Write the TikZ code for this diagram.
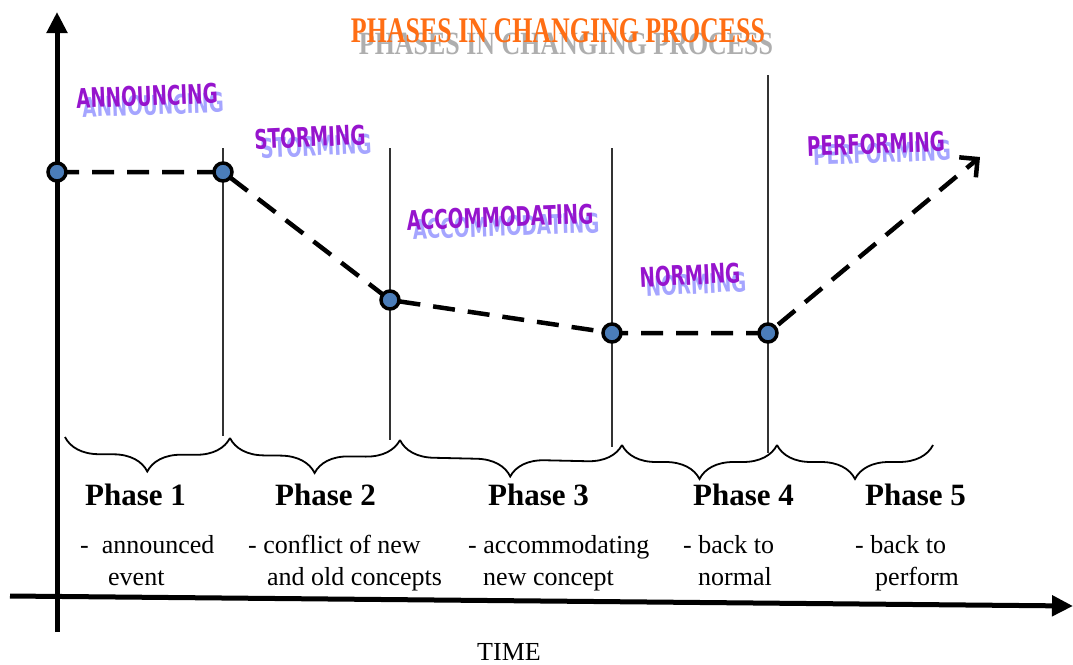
\documentclass[tikz,border=0pt]{standalone}
\usepackage{fontspec}
\setmainfont{Liberation Serif}
\newfontfamily\labfont{DejaVu Sans}
\usetikzlibrary{arrows.meta,decorations.pathreplacing}
\definecolor{labpurple}{RGB}{150,20,205}
\definecolor{labshadow}{RGB}{165,165,255}
\definecolor{titleorange}{RGB}{255,110,20}
\definecolor{dotblue}{RGB}{75,125,185}
\begin{document}
\begin{tikzpicture}[x=1pt,y=-1pt,
  axis/.style={line width=5pt,-{Triangle[length=21pt,width=20pt]}},
  vline/.style={line width=1.6pt, black!80},
  dashline/.style={line width=4.5pt, dash pattern=on 22pt off 13pt, -{Straight Barb[length=13pt,width=26pt]}},
  dot/.style={circle, draw=black, line width=3.5pt, fill=dotblue, minimum size=18pt, inner sep=0pt},
  brc/.style={decorate, decoration={brace, mirror, amplitude=34pt}, line width=1.8pt},
  phase/.style={anchor=base west, inner sep=0pt, font=\bfseries\fontsize{31}{36}\selectfont},
  desc/.style={anchor=base west, inner sep=0pt, font=\fontsize{26}{30}\selectfont},
  lab/.style={inner sep=0pt, text=labpurple, font=\labfont\bfseries\fontsize{27}{27}\selectfont},
  labsh/.style={lab, text=labshadow},
  ttl/.style={inner sep=0pt, text=titleorange, font=\bfseries\fontsize{36}{36}\selectfont},
  ttlsh/.style={ttl, text=black!45, opacity=0.7},
]
\useasboundingbox (0,0) rectangle (1073,664);

% title
\node[ttlsh] (title-s) at (566,44) {\scalebox{0.72}[0.9]{PHASES IN CHANGING PROCESS}};
\node[ttl] (title) at (558,31) {\scalebox{0.72}[1]{PHASES IN CHANGING PROCESS}};

% axes
\coordinate (yb) at (57,632);
\coordinate (yt) at (57,12);
\coordinate (xl) at (10,596);
\coordinate (xr) at (1073,606);
\draw[axis] (yb) -- (yt);
\draw[axis] (xl) -- (xr);

% vertical phase lines
\coordinate (v1t) at (223,148); \coordinate (v1b) at (223,436);
\coordinate (v2t) at (390,148); \coordinate (v2b) at (390,440);
\coordinate (v3t) at (612,148); \coordinate (v3b) at (612,447);
\coordinate (v4t) at (768,75);  \coordinate (v4b) at (768,453);
\draw[vline] (v1t) -- (v1b);
\draw[vline] (v2t) -- (v2b);
\draw[vline] (v3t) -- (v3b);
\draw[vline] (v4t) -- (v4b);

% dashed curve
\coordinate (p1) at (57,172);
\coordinate (p2) at (223,172);
\coordinate (p3) at (390,300);
\coordinate (p4) at (612,333);
\coordinate (p5) at (768,333);
\coordinate (pe) at (980,157);
\draw[dashline] (p1) -- (p2) -- (p3) -- (p4) -- (p5) -- (pe);
\node[dot] (d1) at (p1) {};
\node[dot] (d2) at (p2) {};
\node[dot] (d3) at (p3) {};
\node[dot] (d4) at (p4) {};
\node[dot] (d5) at (p5) {};

% braces
\coordinate (b0) at (65,437);
\coordinate (b1) at (230,438);
\coordinate (b2) at (400,440);
\coordinate (b3) at (622,445);
\coordinate (b4) at (777,445);
\coordinate (b5) at (933,445);
\draw[brc] (b0) -- (b1);
\draw[brc] (b1) -- (b2);
\draw[brc] (b2) -- (b3);
\draw[brc] (b3) -- (b4);
\draw[brc] (b4) -- (b5);

% phase labels
\node[phase] (ph1) at (85,505) {Phase 1};
\node[phase] (ph2) at (275,505) {Phase 2};
\node[phase] (ph3) at (488,505) {Phase 3};
\node[phase] (ph4) at (693,505) {Phase 4};
\node[phase] (ph5) at (865,505) {Phase 5};

% descriptions
\node[desc] (t1a) at (80,553) {-\hspace{0.5em}announced};
\node[desc] (t1b) at (108,585) {event};
\node[desc] (t2a) at (248,553) {- conflict of new};
\node[desc] (t2b) at (267,585) {and old concepts};
\node[desc] (t3a) at (468,553) {- accommodating};
\node[desc] (t3b) at (483,585) {new concept};
\node[desc] (t4a) at (683,553) {- back to};
\node[desc] (t4b) at (698,585) {normal};
\node[desc] (t5a) at (855,553) {- back to};
\node[desc] (t5b) at (875,585) {perform};

\node[desc] (time) at (477,660) {TIME};

% purple stage labels
\node[labsh, rotate=2.2] (ann-s) at (153,105) {\scalebox{0.68}[1]{ANNOUNCING}};
\node[lab, rotate=2.2] (ann) at (147,96) {\scalebox{0.68}[1]{ANNOUNCING}};
\node[labsh, rotate=2.5] (sto-s) at (316,146) {\scalebox{0.68}[1]{STORMING}};
\node[lab, rotate=2.5] (sto) at (310,137) {\scalebox{0.68}[1]{STORMING}};
\node[labsh, rotate=2] (acc-s) at (506,226) {\scalebox{0.68}[1]{ACCOMMODATING}};
\node[lab, rotate=2] (acc) at (500,217) {\scalebox{0.68}[1]{ACCOMMODATING}};
\node[labsh, rotate=2.7] (nor-s) at (696,284) {\scalebox{0.68}[1]{NORMING}};
\node[lab, rotate=2.7] (nor) at (690,275) {\scalebox{0.68}[1]{NORMING}};
\node[labsh, rotate=2] (per-s) at (882,153) {\scalebox{0.68}[1]{PERFORMING}};
\node[lab, rotate=2] (per) at (876,144) {\scalebox{0.68}[1]{PERFORMING}};
\end{tikzpicture}
\end{document}
